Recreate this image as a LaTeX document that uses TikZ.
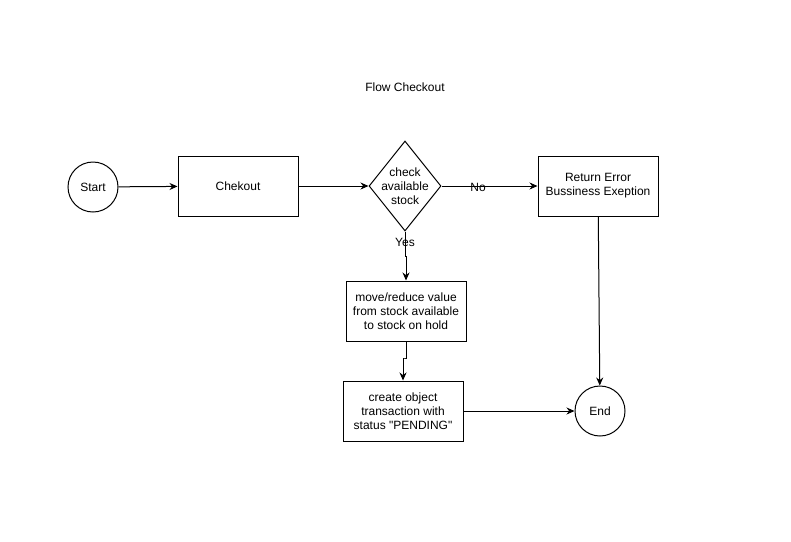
\documentclass[tikz,border=0pt]{standalone}
\usepackage{fontspec}
\setmainfont{Liberation Sans}[Ligatures=TeXOff]
\usetikzlibrary{shapes.geometric,arrows.meta}
\tikzset{
	box/.style={draw,line width=1pt,minimum width=120pt,minimum height=60pt,align=center,inner sep=0pt},
	term/.style={draw,line width=1pt,circle,minimum size=50pt,inner sep=0pt},
	decision/.style={draw,line width=1pt,diamond,minimum width=72pt,minimum height=90pt,inner sep=0pt},
	arr/.style={line width=1pt,-{Stealth[length=8pt,width=7pt]}},
}
\begin{document}
\begin{tikzpicture}[x=1pt,y=-1pt,font=\fontsize{12}{14}\selectfont]
		\useasboundingbox (0,0) rectangle (791,541);
		\node (title)   at (405,87)  {Flow Checkout};
		%
		\node (start)   at (93,187)  [term] {Start};
		\node (chekout)   at (238,186)  [box] {Chekout};
		\node (check)   at (405,186)  [decision] {};
		\node (checktxt)   at (check)  [align=center] {check\\available\\stock};
		\node (error)   at (598,186)  [box] {Return Error\\Bussiness Exeption};
		%
		\node (move)   at (406,311)  [box] {move/reduce value\\from stock available\\to stock on hold};
		\node (create)   at (403,411)  [box] {create object\\transaction with\\status "PENDING"};
		\node (end)   at (600,411)  [term] {End};
		%
		\coordinate (j1) at (405.5,256);
		\coordinate (j2) at (404.5,358);
		%
		\draw[arr] (start) -- (chekout);
		\draw[arr] (chekout) -- (check);
		\draw[arr] (check) -- (error);
		\draw[arr] (check.south) |- (j1) -| (move.north);
		\draw[arr] (move.south) |- (j2) -| (create.north);
		\draw[arr] (create) -- (end);
		\draw[arr] (error) -- (end);
		% labels
		\node (no)   at (478,187)  {No};
		\node (yes)   at (405,242)  {Yes};
	\end{tikzpicture}
\end{document}
